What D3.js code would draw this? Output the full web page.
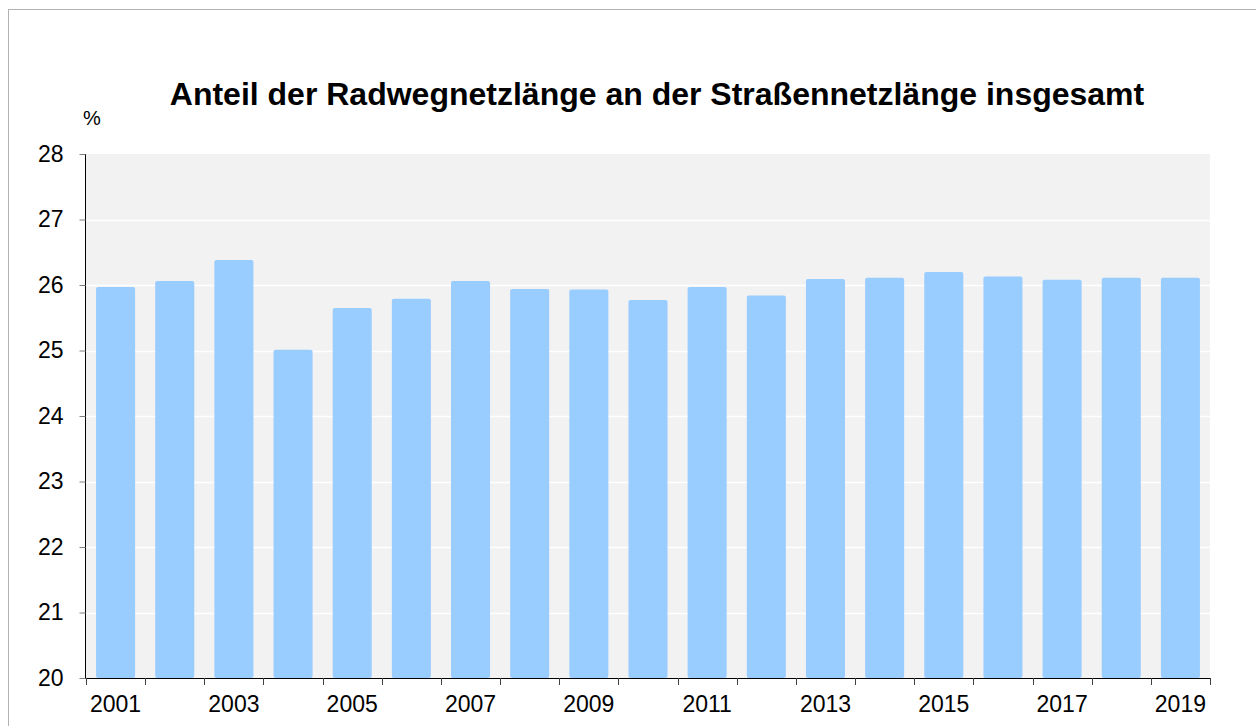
<!DOCTYPE html>
<html>
<head>
    <meta charset="utf-8">
    <style>
        body { margin: 0; background: white; font-family: "Liberation Sans", Arial, sans-serif; }
        svg { display: block; }
    </style>
</head>
<body>
<svg width="1256" height="726"></svg>
<script src="https://d3js.org/d3.v7.min.js"></script>
<script>
    // data
    let years = ["2001", "2002", "2003", "2004", "2005", "2006", "2007", "2008", "2009", "2010",
                 "2011", "2012", "2013", "2014", "2015", "2016", "2017", "2018", "2019"];
    let shares = [25.97, 26.06, 26.38, 25.01, 25.65, 25.79, 26.06, 25.94, 25.93, 25.77,
                  25.97, 25.84, 26.09, 26.11, 26.20, 26.13, 26.08, 26.11, 26.11];
    let yTicks = [20, 21, 22, 23, 24, 25, 26, 27, 28];
    let xLabels = ["2001", "2003", "2005", "2007", "2009", "2011", "2013", "2015", "2017", "2019"];

    let svg = d3.select("svg");

    // outer frame
    svg.append("rect")
        .attr("x", 8.5).attr("y", 9.5)
        .attr("width", 1260).attr("height", 730)
        .attr("fill", "none")
        .attr("stroke", "#b3b3b3")
        .attr("stroke-width", 1);

    let plotLeft = 86, plotRight = 1210, plotTop = 154, plotBottom = 678;

    let x = d3.scaleBand()
        .domain(years)
        .range([plotLeft, plotRight])
        .paddingInner(0.34)
        .paddingOuter(0.17);

    let y = d3.scaleLinear()
        .domain([20, 28])
        .range([plotBottom, plotTop]);

    // plot background
    svg.append("rect")
        .attr("x", plotLeft).attr("y", plotTop)
        .attr("width", plotRight - plotLeft).attr("height", plotBottom - plotTop)
        .attr("fill", "#f2f2f2");

    // gridlines
    svg.append("g")
        .selectAll("line")
        .data(yTicks.slice(1, -1))
        .join("line")
        .attr("x1", plotLeft).attr("x2", plotRight)
        .attr("y1", d => Math.round(y(d)) + 0.5)
        .attr("y2", d => Math.round(y(d)) + 0.5)
        .attr("stroke", "white")
        .attr("stroke-width", 1.5);

    // bars
    svg.append("g")
        .selectAll("rect")
        .data(years.map((yr, i) => ({ yr: yr, v: shares[i] })))
        .join("rect")
        .attr("x", d => x(d.yr))
        .attr("y", d => y(d.v))
        .attr("width", x.bandwidth())
        .attr("height", d => y(20) - y(d.v))
        .attr("rx", 2)
        .attr("fill", "#99ccff");

    // y axis
    let yAxis = d3.axisLeft(y)
        .tickValues(yTicks)
        .tickSize(6)
        .tickPadding(16)
        .tickFormat(d3.format("d"));
    let gy = svg.append("g")
        .attr("transform", `translate(${plotLeft - 0.5},0)`)
        .call(yAxis);
    gy.select(".domain").attr("stroke", "black").attr("d", `M0,${plotTop}V${plotBottom}`);
    gy.selectAll(".tick line").attr("stroke", "#808080");
    gy.selectAll("text")
        .attr("font-family", "Liberation Sans, Arial, sans-serif")
        .attr("font-size", 23)
        .attr("fill", "black");

    // x axis: ticks at category boundaries, labels every second year
    let boundaries = d3.range(years.length + 1).map(i => plotLeft + i * (plotRight - plotLeft) / years.length);
    let gx = svg.append("g");
    gx.append("line")
        .attr("x1", plotLeft - 0.5).attr("x2", plotRight)
        .attr("y1", plotBottom + 0.5).attr("y2", plotBottom + 0.5)
        .attr("stroke", "black");
    gx.selectAll(".xt")
        .data(boundaries)
        .join("line")
        .attr("class", "xt")
        .attr("x1", d => Math.round(d) + 0.5).attr("x2", d => Math.round(d) + 0.5)
        .attr("y1", plotBottom).attr("y2", plotBottom + 7)
        .attr("stroke", "#404040");
    gx.selectAll("text")
        .data(xLabels)
        .join("text")
        .attr("x", d => x(d) + x.bandwidth() / 2)
        .attr("y", 712)
        .attr("text-anchor", "middle")
        .attr("font-size", 23)
        .attr("fill", "black")
        .text(d => d);

    // title and unit
    svg.append("text")
        .attr("x", 657)
        .attr("y", 105)
        .attr("text-anchor", "middle")
        .attr("font-size", 32)
        .attr("font-weight", "bold")
        .text("Anteil der Radwegnetzlänge an der Straßennetzlänge insgesamt");

    svg.append("text")
        .attr("x", 83)
        .attr("y", 125)
        .attr("font-size", 20)
        .text("%");
</script>
</body>
</html>
